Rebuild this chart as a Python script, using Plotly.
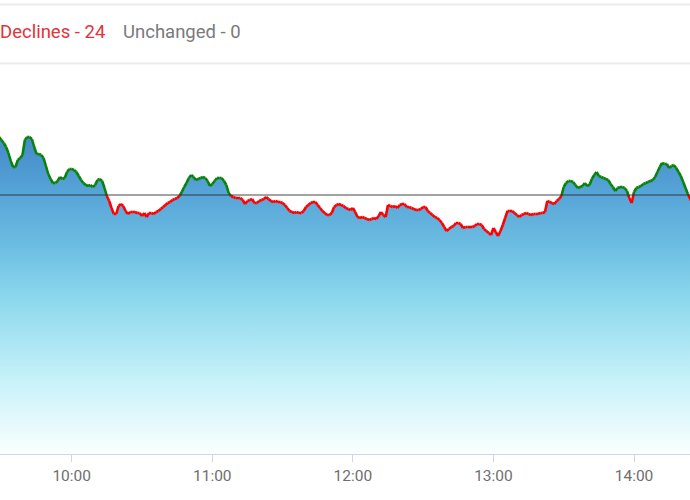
import pandas as pd
import plotly.graph_objects as go

# ---- data ----
session_date = "2024-05-10"
first_time = "09:28"          # first minute in the visible window
prev_close = 2450
index_values = [
    2511, 2508, 2505, 2502, 2498, 2492, 2484, 2478, 2478, 2485, 2487, 2490, 2505, 2508, 2508, 2506,
    2498, 2491, 2491, 2490, 2487, 2479, 2471, 2466, 2462, 2462, 2464, 2468, 2466, 2467, 2473, 2476,
    2476, 2475, 2473, 2469, 2465, 2462, 2460, 2459, 2460, 2458, 2460, 2465, 2466, 2464, 2457, 2449,
    2444, 2437, 2431, 2431, 2439, 2441, 2439, 2434, 2431, 2433, 2433, 2433, 2432, 2432, 2429, 2432,
    2428, 2432, 2432, 2431, 2433, 2434, 2436, 2438, 2440, 2442, 2443, 2445, 2446, 2447, 2449, 2453,
    2458, 2462, 2467, 2470, 2468, 2465, 2466, 2467, 2468, 2467, 2464, 2459, 2461, 2464, 2467, 2467,
    2467, 2464, 2460, 2452, 2449, 2448, 2447, 2447, 2447, 2445, 2441, 2444, 2445, 2446, 2442, 2442,
    2444, 2445, 2446, 2448, 2446, 2444, 2443, 2444, 2443, 2443, 2442, 2440, 2437, 2434, 2433, 2432,
    2433, 2432, 2432, 2434, 2438, 2440, 2442, 2443, 2443, 2440, 2437, 2434, 2432, 2430, 2430, 2432,
    2438, 2440, 2441, 2440, 2439, 2437, 2436, 2435, 2437, 2433, 2428, 2427, 2428, 2427, 2426, 2425,
    2426, 2427, 2426, 2429, 2433, 2430, 2428, 2440, 2439, 2438, 2439, 2437, 2440, 2441, 2441, 2438,
    2438, 2437, 2436, 2435, 2435, 2436, 2438, 2438, 2434, 2432, 2430, 2428, 2427, 2425, 2422, 2418,
    2414, 2416, 2418, 2419, 2422, 2422, 2421, 2417, 2418, 2418, 2418, 2418, 2419, 2421, 2421, 2420,
    2416, 2414, 2412, 2410, 2417, 2413, 2409, 2414, 2420, 2427, 2434, 2434, 2434, 2432, 2430, 2428,
    2430, 2431, 2432, 2431, 2430, 2431, 2431, 2431, 2432, 2432, 2433, 2444, 2443, 2442, 2441, 2444,
    2446, 2449, 2458, 2462, 2464, 2464, 2463, 2460, 2457, 2458, 2459, 2462, 2459, 2460, 2466, 2470,
    2473, 2469, 2468, 2467, 2466, 2465, 2461, 2458, 2454, 2457, 2458, 2458, 2457, 2454, 2447, 2442,
    2453, 2457, 2458, 2459, 2461, 2462, 2463, 2464, 2465, 2468, 2473, 2478, 2482, 2481, 2481, 2477,
    2479, 2480, 2477, 2473, 2469, 2463, 2457, 2451, 2446, 2441,
]
tick_times = ["10:00", "11:00", "12:00", "13:00", "14:00"]
view_start = "09:29:24"
view_end = "14:23:54"
legend_labels = ["Declines - 24", "Unchanged - 0"]

times = pd.date_range(f"{session_date} {first_time}", periods=len(index_values), freq="min")

# ---- split line into above (green) / below (red) prev close, cutting at crossings ----
up_x, up_y, dn_x, dn_y = [], [], [], []
for i in range(len(index_values) - 1):
    t0, t1 = times[i], times[i + 1]
    v0, v1 = index_values[i], index_values[i + 1]
    a0, a1 = v0 >= prev_close, v1 >= prev_close
    if a0 == a1:
        tx, ty = (up_x, up_y) if a0 else (dn_x, dn_y)
        tx += [t0, t1, None]
        ty += [v0, v1, None]
    else:
        f = (prev_close - v0) / (v1 - v0)
        tc = t0 + (t1 - t0) * f
        tx, ty = (up_x, up_y) if a0 else (dn_x, dn_y)
        tx += [t0, tc, None]
        ty += [v0, prev_close, None]
        tx, ty = (up_x, up_y) if a1 else (dn_x, dn_y)
        tx += [tc, t1, None]
        ty += [prev_close, v1, None]

y_bottom, y_top = 2191, 2580

fig = go.Figure()
fig.add_trace(go.Scatter(
    x=times, y=index_values, mode="lines", line=dict(width=0),
    fill="tozeroy",
    fillgradient=dict(
        type="vertical", start=y_bottom, stop=2510,
        colorscale=[[0, "#fbffff"], [0.23, "#c8f2f9"], [0.48, "#8ed9ee"],
                    [0.655, "#6cbde2"], [0.81, "#58a6d8"], [1, "#4389c9"]],
    ),
    hoverinfo="skip", showlegend=False,
))
fig.add_trace(go.Scatter(x=up_x, y=up_y, mode="lines", line=dict(color="#0a820a", width=2.6),
                         connectgaps=False, showlegend=False, hoverinfo="skip"))
fig.add_trace(go.Scatter(x=dn_x, y=dn_y, mode="lines", line=dict(color="#ff0000", width=2.6),
                         connectgaps=False, showlegend=False, hoverinfo="skip"))

# previous close reference line
fig.add_shape(type="line", xref="paper", x0=0, x1=1, yref="y", y0=prev_close, y1=prev_close,
              line=dict(color="rgba(40,40,40,0.85)", width=1.2))

plot_h = 500 - 65 - 46
def py_to_paper(py):
    return (454 - py) / plot_h

for py in (4.5, 63.5):
    fig.add_shape(type="line", xref="paper", yref="paper", x0=0, x1=1,
                  y0=py_to_paper(py), y1=py_to_paper(py),
                  line=dict(color="#ebebeb", width=2))

fig.add_annotation(text=legend_labels[0], xref="paper", yref="paper", x=-0.003, y=py_to_paper(32),
                   xanchor="left", yanchor="middle", showarrow=False,
                   font=dict(family="Roboto", size=18.5, color="#e2323a"))
fig.add_annotation(text=legend_labels[1], xref="paper", yref="paper", x=120.5 / 690, y=py_to_paper(32),
                   xanchor="left", yanchor="middle", showarrow=False,
                   font=dict(family="Roboto", size=18.5, color="#7a7a7a"))

fig.update_layout(
    width=690, height=500,
    margin=dict(l=0, r=0, t=65, b=46, pad=0),
    paper_bgcolor="white", plot_bgcolor="white",
    xaxis=dict(
        type="date",
        range=[f"{session_date} {view_start}", f"{session_date} {view_end}"],
        tickvals=[f"{session_date} {t}" for t in tick_times],
        ticktext=tick_times,
        showgrid=False, zeroline=False,
        showline=True, linecolor="#ccd6eb", linewidth=1,
        ticks="outside", ticklen=7, tickcolor="#ccd6eb", tickwidth=1,
        tickfont=dict(family="Roboto", size=15.5, color="#6e6e6e"),
    ),
    yaxis=dict(range=[y_bottom, y_top], visible=False, showgrid=False, zeroline=False),
)

fig.write_html("out.html", config={"displayModeBar": False},
               post_script="document.body.style.margin='0';document.body.style.overflow='hidden';")
